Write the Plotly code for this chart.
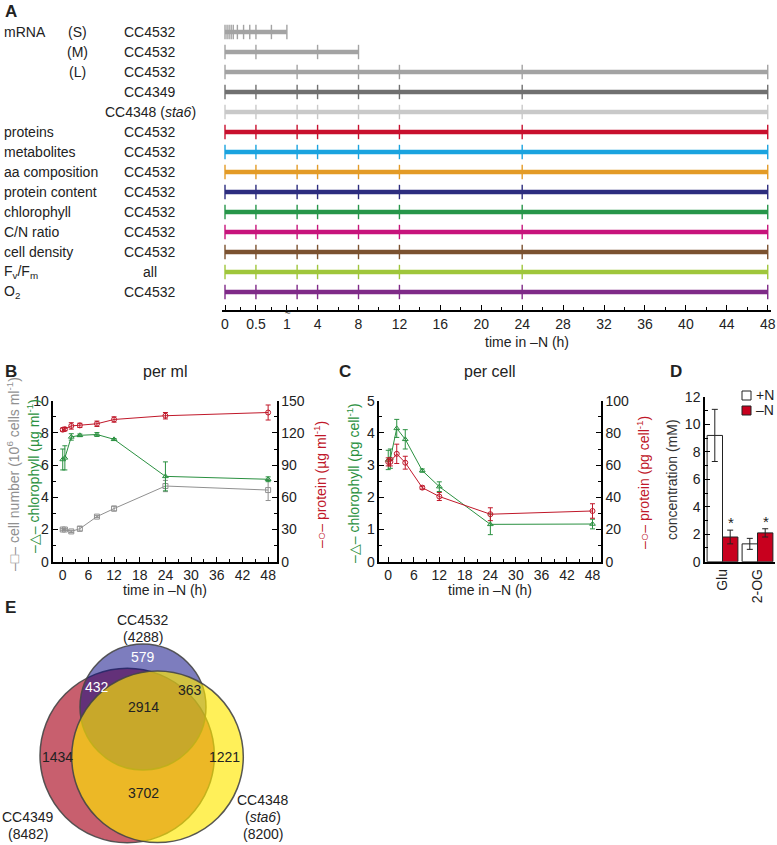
import plotly.graph_objects as go

W, H = 777, 845
FONT = "Liberation Sans, Arial, Helvetica, sans-serif"


def px(x):
    return x / W


def py(y):
    return 1 - y / H


# ---------------- Panel A data ----------------
row_group = ["mRNA", "", "", "", "", "proteins", "metabolites", "aa composition",
             "protein content", "chlorophyll", "C/N ratio", "cell density",
             "F<sub>v</sub>/F<sub>m</sub>", "O<sub>2</sub>"]
row_course = ["(S)", "(M)", "(L)", "", "", "", "", "", "", "", "", "", "", ""]
row_strain = ["CC4532", "CC4532", "CC4532", "CC4349", "CC4348 (<i>sta6</i>)",
              "CC4532", "CC4532", "CC4532", "CC4532", "CC4532", "CC4532",
              "CC4532", "all", "CC4532"]
row_colors = ["#a3a3a3", "#a3a3a3", "#a3a3a3", "#707070", "#c9c9c9",
              "#c8102e", "#1aa3df", "#e39b27", "#2d2d7f", "#27964a",
              "#c7147c", "#7b5230", "#9fc63b", "#7f2a88"]
short_minutes = [0, 2, 4, 6, 8, 12, 18, 24, 30, 45, 60]
medium_hours = [0, 0.5, 4, 8]
long_hours = [0, 2, 8, 12, 24, 48]
std_hours = [0, 0.5, 2, 4, 8, 12, 24, 48]
row_times = [[m / 60 for m in short_minutes], medium_hours, long_hours] + [std_hours] * 11

axisA_major = [0, 0.5, 1, 4, 8, 12, 16, 20, 24, 28, 32, 36, 40, 44, 48]
axisA_labels = ["0", "0.5", "1", "4", "8", "12", "16", "20", "24", "28", "32", "36", "40", "44", "48"]
axisA_minor = [0.25, 0.75, 2, 6, 10, 14, 18, 22, 26, 30, 34, 38, 42, 46]

# ---------------- Panels B / C data ----------------
time_h = [0, 0.5, 2, 4, 8, 12, 24, 48]
B_cells = [2.0, 2.0, 1.88, 2.05, 2.8, 3.3, 4.7, 4.45]
B_cells_err = [0.05, 0.05, 0.07, 0.15, 0.06, 0.15, 0.35, 0.65]
B_chl = [6.35, 6.45, 7.75, 7.85, 7.9, 7.6, 5.3, 5.12]
B_chl_err = [0.65, 0.75, 0.2, 0.08, 0.12, 0.05, 0.9, 0.15]
B_prot = [123, 123.5, 126.5, 127, 128.5, 132.5, 136, 139]
B_prot_err = [1.5, 1.5, 3, 2, 2.5, 2.5, 3, 7]

C_chl = [3.16, 3.2, 4.14, 3.8, 2.83, 2.33, 1.16, 1.17]
C_chl_err = [0.3, 0.3, 0.28, 0.3, 0.05, 0.15, 0.32, 0.15]
C_prot = [62, 62, 67, 61.5, 46, 40.5, 29.5, 31.5]
C_prot_err = [2.5, 2.5, 6, 4, 1, 2.5, 4, 4.5]

# ---------------- Panel D data ----------------
D_cats = ["Glu", "2-OG"]
D_plusN = [9.2, 1.3]
D_plusN_err = [1.9, 0.4]
D_minusN = [1.8, 2.1]
D_minusN_err = [0.5, 0.3]
D_signif = ["*", "*"]

# ---------------- Panel E data ----------------
venn_counts = {"532": 579, "532_349": 432, "532_348": 363, "all": 2914,
               "349": 1434, "348": 1221, "349_348": 3702}

RED = "#c0182a"
GREEN = "#2a9040"
GRAY = "#909090"

fig = go.Figure()


def u(t):
    # broken time axis: 0-1 h expanded, then linear
    return t * 6.05 if t <= 1 else t + 5.05


# Panel A rows
for i, (times, col) in enumerate(zip(row_times, row_colors)):
    fig.add_trace(go.Scatter(x=[u(0), u(max(times))], y=[i, i], mode="lines",
                             line=dict(color=col, width=4.5), xaxis="x", yaxis="y",
                             showlegend=False, hoverinfo="skip"))
    xs, ys = [], []
    for t in times:
        xs += [u(t), u(t), None]
        ys += [i - 0.36, i + 0.36, None]
    fig.add_trace(go.Scatter(x=xs, y=ys, mode="lines", line=dict(color=col, width=1.4),
                             xaxis="x", yaxis="y", showlegend=False, hoverinfo="skip"))


def err(arr, col):
    return dict(type="data", array=arr, color=col, thickness=1, width=2.5)


# Panel B
fig.add_trace(go.Scatter(x=time_h, y=B_cells, error_y=err(B_cells_err, GRAY), mode="lines+markers",
                         line=dict(color=GRAY, width=1), marker=dict(symbol="square-open", size=5, color=GRAY),
                         xaxis="x2", yaxis="y2", showlegend=False))
fig.add_trace(go.Scatter(x=time_h, y=B_chl, error_y=err(B_chl_err, GREEN), mode="lines+markers",
                         line=dict(color=GREEN, width=1), marker=dict(symbol="triangle-up-open", size=5, color=GREEN),
                         xaxis="x2", yaxis="y2", showlegend=False))
fig.add_trace(go.Scatter(x=time_h, y=B_prot, error_y=err(B_prot_err, RED), mode="lines+markers",
                         line=dict(color=RED, width=1), marker=dict(symbol="circle-open", size=5, color=RED),
                         xaxis="x2", yaxis="y3", showlegend=False))

# Panel C
fig.add_trace(go.Scatter(x=time_h, y=C_chl, error_y=err(C_chl_err, GREEN), mode="lines+markers",
                         line=dict(color=GREEN, width=1), marker=dict(symbol="triangle-up-open", size=5, color=GREEN),
                         xaxis="x3", yaxis="y4", showlegend=False))
fig.add_trace(go.Scatter(x=time_h, y=C_prot, error_y=err(C_prot_err, RED), mode="lines+markers",
                         line=dict(color=RED, width=1), marker=dict(symbol="circle-open", size=5, color=RED),
                         xaxis="x3", yaxis="y5", showlegend=False))

# Panel D
fig.add_trace(go.Bar(x=D_cats, y=D_plusN, name="+N", marker=dict(color="white", line=dict(color="#222", width=1)),
                     error_y=dict(type="data", array=D_plusN_err, color="#222", thickness=1, width=3),
                     xaxis="x4", yaxis="y6", showlegend=False))
fig.add_trace(go.Bar(x=D_cats, y=D_minusN, name="–N", marker=dict(color="#c8001e", line=dict(color="#222", width=1)),
                     error_y=dict(type="data", array=D_minusN_err, color="#222", thickness=1, width=3),
                     xaxis="x4", yaxis="y6", showlegend=False))

axis_common = dict(showgrid=False, zeroline=False, showline=True, linecolor="black", linewidth=1.5,
                   ticks="inside", tickcolor="black", tickwidth=1.2, ticklen=5,
                   tickfont=dict(size=14, color="#222"))
minor_common = dict(ticklen=3, ticks="inside", tickcolor="black")

layout = dict(
    width=W, height=H, margin=dict(l=0, r=0, t=0, b=0, autoexpand=False),
    paper_bgcolor="white", plot_bgcolor="white",
    font=dict(family=FONT, size=14, color="#222"),
    barmode="group", bargap=0.12, bargroupgap=0.0,
    showlegend=False,
    xaxis=dict(domain=[px(222), px(771)], range=[-0.293, 53.37], anchor="y",
               tickmode="array", tickvals=[u(t) for t in axisA_major], ticktext=axisA_labels,
               minor=dict(tickmode="array", tickvals=[u(t) for t in axisA_minor], **minor_common),
               **axis_common),
    yaxis=dict(domain=[py(310), py(22)], range=[13.9, -0.5], anchor="x", visible=False),
    xaxis2=dict(domain=[px(53.3), px(276.7)], range=[-2.2, 50], anchor="y2",
                tickmode="linear", tick0=0, dtick=6, minor=dict(dtick=3, **minor_common), **axis_common),
    yaxis2=dict(domain=[py(561.7), py(400.7)], range=[0, 10], anchor="x2", side="left",
                tickmode="linear", tick0=0, dtick=2, minor=dict(dtick=1, **minor_common), **axis_common),
    yaxis3=dict(range=[0, 150], overlaying="y2", anchor="x2", side="right",
                tickmode="linear", tick0=0, dtick=30, minor=dict(dtick=15, **minor_common), **axis_common),
    xaxis3=dict(domain=[px(379.3), px(601)], range=[-2.1, 50], anchor="y4",
                tickmode="linear", tick0=0, dtick=6, minor=dict(dtick=3, **minor_common), **axis_common),
    yaxis4=dict(domain=[py(561.7), py(400.7)], range=[0, 5], anchor="x3", side="left",
                tickmode="linear", tick0=0, dtick=1, minor=dict(dtick=0.5, **minor_common), **axis_common),
    yaxis5=dict(range=[0, 100], overlaying="y4", anchor="x3", side="right",
                tickmode="linear", tick0=0, dtick=20, minor=dict(dtick=10, **minor_common), **axis_common),
    xaxis4=dict(domain=[px(705), px(775)], anchor="y6", type="category", tickangle=-90,
                showgrid=False, zeroline=False, showline=True, linecolor="black", linewidth=1.5,
                ticks="", tickfont=dict(size=14, color="#222")),
    yaxis6=dict(domain=[py(561.7), py(397)], range=[0, 12], anchor="x4", side="left",
                tickmode="linear", tick0=0, dtick=2, minor=dict(dtick=1, **minor_common), **axis_common),
)
fig.update_layout(**layout)

ann = []


def text(x, y, s, size=14, color="#222", xanchor="center", angle=0, bold=False, xref="paper", yref="paper"):
    if bold:
        s = "<b>" + s + "</b>"
    ann.append(dict(x=x, y=y, xref=xref, yref=yref, text=s, showarrow=False, xanchor=xanchor,
                    yanchor="middle", textangle=angle, font=dict(size=size, color=color, family=FONT)))


# Panel letters / titles
text(px(3), py(11), "A", size=17, xanchor="left", bold=True)
text(px(3), py(371), "B", size=17, xanchor="left", bold=True)
text(px(337), py(371), "C", size=17, xanchor="left", bold=True)
text(px(668), py(371), "D", size=17, xanchor="left", bold=True)
text(px(3), py(607), "E", size=17, xanchor="left", bold=True)
text(px(165), py(371), "per ml", size=16)
text(px(490), py(371), "per cell", size=16)

# Panel A row labels
for i in range(len(row_group)):
    if row_group[i]:
        text(px(2), i, row_group[i], xanchor="left", yref="y")
    if row_course[i]:
        text(px(77), i, row_course[i], yref="y")
    text(px(150), i, row_strain[i], yref="y")
text(px(527), py(342), "time in –N (h)")
text(u(1.12), py(311.5), "≈", size=10, xref="x")

# Panel B/C axis titles
text(px(13), py(474), "–□– cell number (10<sup>6</sup> cells ml<sup>-1</sup>)", color=GRAY, angle=-90)
text(px(33), py(476), "–△– chlorophyll (µg ml<sup>-1</sup>)", color=GREEN, angle=-90)
text(px(320), py(485), "–○– protein (µg ml<sup>-1</sup>)", color=RED, angle=-90)
text(px(165), py(590), "time in –N (h)")
text(px(353), py(483), "–△– chlorophyll (pg cell<sup>-1</sup>)", color=GREEN, angle=-90)
text(px(643), py(483), "–○– protein (pg cell<sup>-1</sup>)", color=RED, angle=-90)
text(px(490), py(590), "time in –N (h)")

# Panel D
text(px(672), py(480), "concentration (mM)", color="#333", angle=-90)
for c, v, e, s in zip(D_cats, D_minusN, D_minusN_err, D_signif):
    ann.append(dict(x=c, y=v + e + 0.55, xref="x4", yref="y6", text=s, showarrow=False, xshift=8,
                    font=dict(size=15, color="#222", family=FONT)))
text(px(754), py(395), "+N", xanchor="left")
text(px(754), py(410), "–N", xanchor="left")

# Panel E labels
text(px(143), py(620), "CC4532")
text(px(143), py(637), "(4288)")
text(px(28), py(817), "CC4349")
text(px(28), py(834), "(8482)")
text(px(263), py(800), "CC4348")
text(px(263), py(817), "(<i>sta6</i>)")
text(px(263), py(834), "(8200)")
venn_pos = {"532": (143, 657, "white"), "532_349": (97, 687, "white"), "532_348": (190, 690, "#222"),
            "all": (143, 707, "#222"), "349": (57, 757, "#222"), "348": (225, 757, "#222"),
            "349_348": (143, 793, "#222")}
for k, v in venn_counts.items():
    x, y, c = venn_pos[k]
    text(px(x), py(y), str(v), color=c)

shapes = []


def circle(cx, cy, r, rgb, op):
    shapes.append(dict(type="circle", xref="paper", yref="paper", x0=px(cx - r), x1=px(cx + r),
                       y0=py(cy + r), y1=py(cy - r), fillcolor="rgba(%d,%d,%d,%s)" % (rgb + (op,)),
                       line=dict(color="rgba(70,70,70,0.9)", width=1.5), layer="above"))


circle(127.2, 755.5, 87.2, (200, 95, 110), 1)
circle(143, 707, 63, (10, 10, 132), 0.53)
circle(157.5, 756.8, 85.8, (255, 232, 0), 0.65)

# Panel D legend swatches
shapes.append(dict(type="rect", xref="paper", yref="paper", x0=px(742), x1=px(751), y0=py(400), y1=py(391),
                   fillcolor="white", line=dict(color="#222", width=1)))
shapes.append(dict(type="rect", xref="paper", yref="paper", x0=px(742), x1=px(751), y0=py(415), y1=py(406),
                   fillcolor="#c8001e", line=dict(color="#222", width=1)))

fig.update_layout(annotations=ann, shapes=shapes)
fig.write_html("out.html", config={"displayModeBar": False},
               post_script="document.body.style.margin='0';document.body.style.overflow='hidden';")
